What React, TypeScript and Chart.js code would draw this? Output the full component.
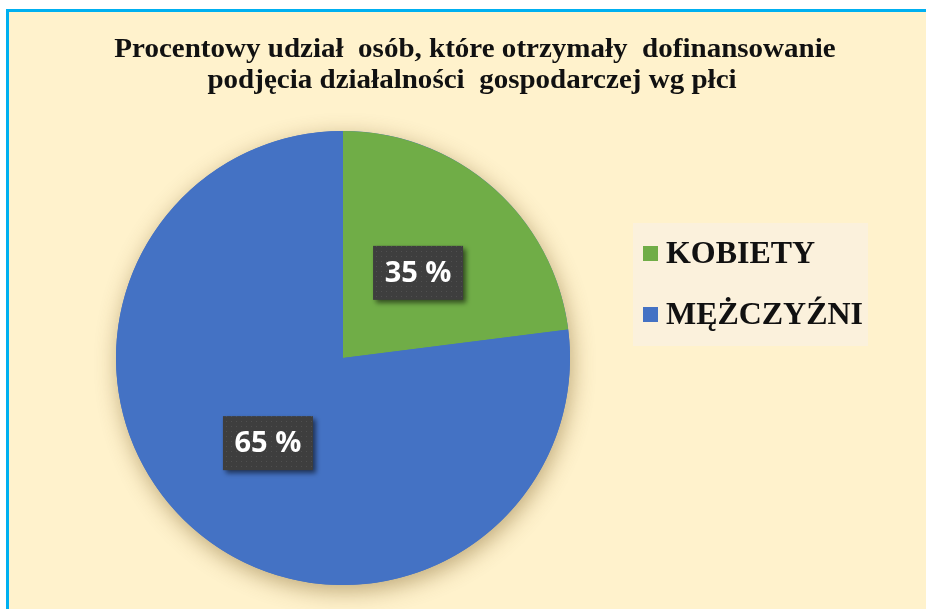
import React, { useEffect, useRef } from 'react';
import { Chart, registerables } from 'chart.js';

Chart.register(...registerables);

const categories = ['KOBIETY', 'MĘŻCZYŹNI'];
const sliceValues = [23, 77];
const labelTexts = ['35 %', '65 %'];
const sliceColors = ['#70AD47', '#4472C4'];
const titleLines = [
  'Procentowy udział  osób, które otrzymały  dofinansowanie',
  'podjęcia działalności  gospodarczej wg płci',
];

const W = 926;
const H = 609;

function makeDotPattern(ctx: CanvasRenderingContext2D) {
  const c = document.createElement('canvas');
  c.width = 5;
  c.height = 5;
  const p = c.getContext('2d')!;
  p.fillStyle = '#3e3e3e';
  p.fillRect(0, 0, 5, 5);
  p.fillStyle = '#505050';
  p.fillRect(1, 1, 1, 1);
  return ctx.createPattern(c, 'repeat');
}

function stretchedText(ctx: CanvasRenderingContext2D, text: string, x: number, y: number, sx: number) {
  ctx.save();
  ctx.translate(x, y);
  ctx.scale(sx, 1);
  ctx.fillText(text, 0, 0);
  ctx.restore();
}

const framePlugin = {
  id: 'frame',
  beforeDraw(chart: any) {
    const ctx = chart.ctx as CanvasRenderingContext2D;
    ctx.save();
    ctx.fillStyle = '#ffffff';
    ctx.fillRect(0, 0, W, H);
    ctx.fillStyle = '#FFF2CC';
    ctx.fillRect(7, 10, W, H);
    ctx.fillStyle = '#00B0F0';
    ctx.fillRect(6, 9, W, 3);
    ctx.fillRect(6, 9, 3, H);
    // title
    ctx.fillStyle = '#111111';
    ctx.font = 'bold 27px "Liberation Serif"';
    ctx.textAlign = 'center';
    ctx.textBaseline = 'alphabetic';
    stretchedText(ctx, titleLines[0], 475, 57, 1.075);
    stretchedText(ctx, titleLines[1], 472, 88, 1.075);
    // legend
    ctx.fillStyle = '#FBF1DC';
    ctx.fillRect(633, 223, 235, 123);
    ctx.font = 'bold 31px "Liberation Serif"';
    ctx.textAlign = 'left';
    const rows = [263, 324];
    categories.forEach((cat, i) => {
      ctx.fillStyle = sliceColors[i];
      ctx.fillRect(643, rows[i] - 17, 15, 15);
      ctx.fillStyle = '#111111';
      stretchedText(ctx, cat, 666, rows[i], 1.03);
    });
    ctx.restore();
  },
  beforeDatasetsDraw(chart: any) {
    const meta = chart.getDatasetMeta(0);
    const arc = meta.data[0];
    if (!arc) return;
    const ctx = chart.ctx as CanvasRenderingContext2D;
    ctx.save();
    ctx.shadowColor = 'rgba(110, 80, 20, 0.45)';
    ctx.shadowBlur = 22;
    ctx.shadowOffsetX = 2;
    ctx.shadowOffsetY = 6;
    ctx.fillStyle = sliceColors[1];
    ctx.beginPath();
    ctx.arc(arc.x, arc.y, arc.outerRadius, 0, Math.PI * 2);
    ctx.fill();
    ctx.restore();
  },
  afterDatasetsDraw(chart: any) {
    const meta = chart.getDatasetMeta(0);
    const ctx = chart.ctx as CanvasRenderingContext2D;
    const pattern = makeDotPattern(ctx);
    meta.data.forEach((el: any, i: number) => {
      const pos = el.tooltipPosition(false);
      const bw = 90;
      const bh = 54;
      ctx.save();
      ctx.shadowColor = 'rgba(0,0,0,0.55)';
      ctx.shadowBlur = 5;
      ctx.shadowOffsetX = 3;
      ctx.shadowOffsetY = 3;
      ctx.fillStyle = pattern || '#404040';
      ctx.fillRect(pos.x - bw / 2, pos.y - bh / 2, bw, bh);
      ctx.restore();
      ctx.save();
      ctx.fillStyle = '#ffffff';
      ctx.font = 'bold 29px "Open Sans"';
      ctx.textAlign = 'center';
      ctx.textBaseline = 'middle';
      ctx.fillText(labelTexts[i], pos.x, pos.y + 1);
      ctx.restore();
    });
  },
};

export default function App() {
  const ref = useRef<HTMLCanvasElement>(null);
  useEffect(() => {
    if (!ref.current) return;
    const chart = new Chart(ref.current, {
      type: 'pie',
      data: {
        labels: categories,
        datasets: [
          {
            data: sliceValues,
            backgroundColor: sliceColors,
            borderWidth: 0,
          },
        ],
      },
      options: {
        responsive: false,
        animation: false,
        layout: { padding: { left: 116, right: 356, top: 131, bottom: 24 } },
        plugins: {
          legend: { display: false },
          tooltip: { enabled: false },
          title: { display: false },
        },
      },
      plugins: [framePlugin],
    });
    return () => chart.destroy();
  }, []);
  return (
    <div style={{ position: 'fixed', left: 0, top: 0, width: W, height: H }}>
      <canvas ref={ref} width={W} height={H} style={{ display: 'block', width: W, height: H }} />
    </div>
  );
}
